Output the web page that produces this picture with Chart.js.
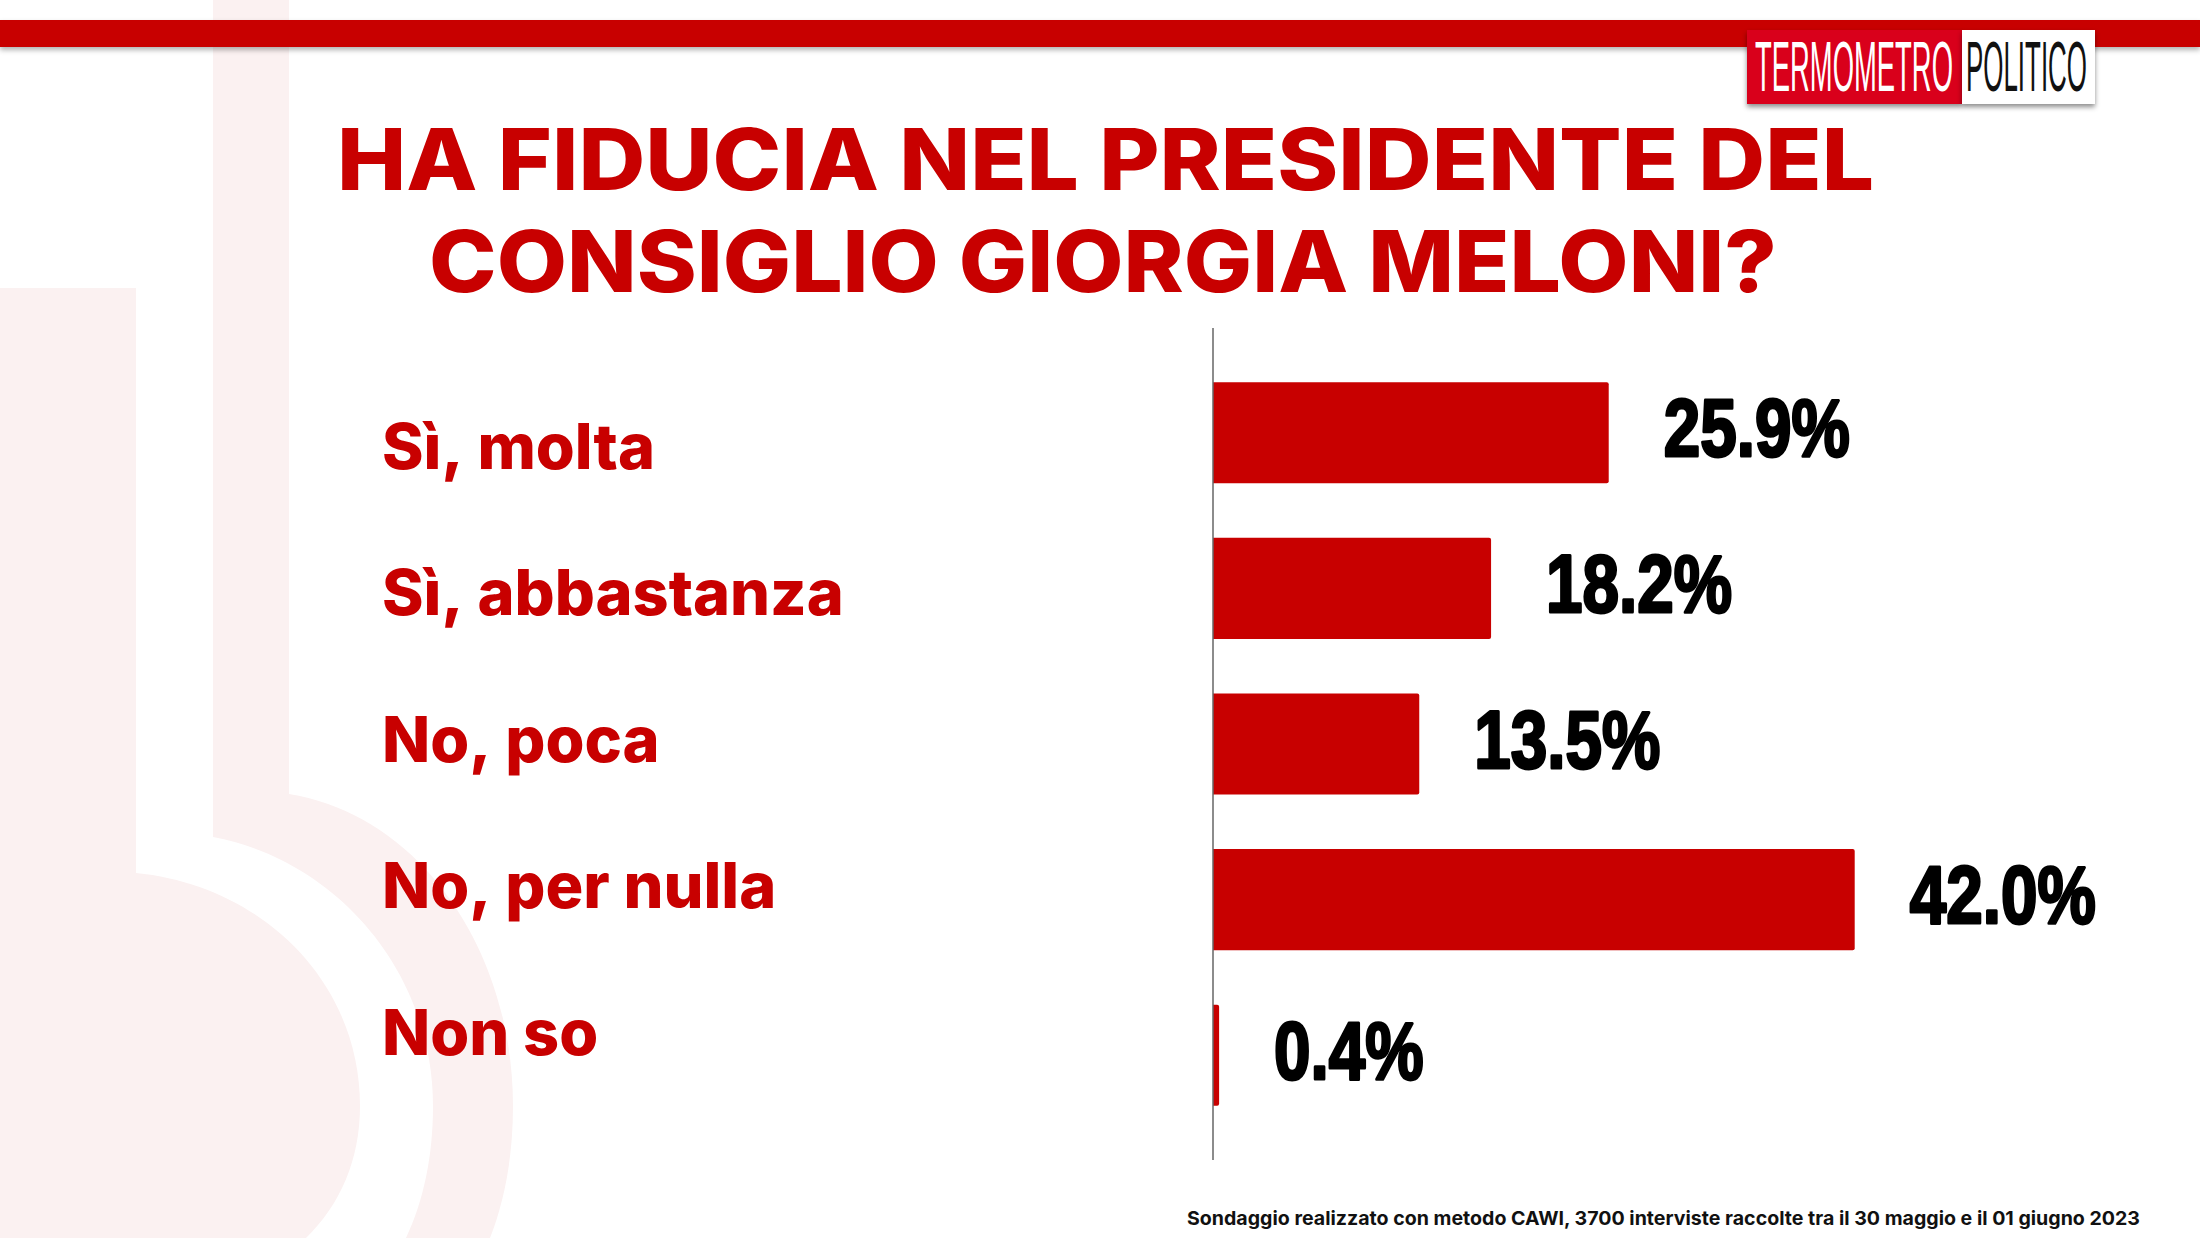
<!DOCTYPE html>
<html lang="it">
<head>
<meta charset="utf-8">
<title>Fiducia Meloni</title>
<script src="https://cdn.jsdelivr.net/npm/chart.js@4/dist/chart.umd.min.js"></script>
<style>
  html, body { margin: 0; padding: 0; background: #fff; }
  #page { position: relative; width: 2200px; height: 1238px; overflow: hidden; background: #fff; }
  #page > * { position: absolute; }
  #sfondo { left: 0; top: 0; }
  #banda { left: 0; top: 20px; width: 2200px; height: 27px; background: #c80000; box-shadow: 0 3px 5px rgba(0,0,0,.3); }
  canvas { left: 0; top: 0; }
  .riga { white-space: nowrap; transform-origin: left top; }
  .titolo { font: 800 85px Inter, sans-serif; color: #c80000; line-height: 100px; }
  #nota { font: 700 19px Inter, sans-serif; color: #111; line-height: 24px; }
  #logo-rosso { left: 1747px; top: 30px; width: 215px; height: 74px; background: #d9001b; box-shadow: 0 3px 5px rgba(0,0,0,.45); }
  #logo-bianco { left: 1962px; top: 30px; width: 133px; height: 74px; background: #fff; box-shadow: 0 3px 5px rgba(0,0,0,.45); }
  .logo { font: 400 70px "Liberation Sans", sans-serif; line-height: 70px; }
</style>
</head>
<body>
<div id="page">
  <svg id="sfondo" width="2200" height="1238">
    <g fill="#fbf1f1">
      <path d="M0 288H136V873C260 885 360 980 360 1106C360 1160 340 1205 306 1238H0Z"/>
      <path d="M213 0H289V794C420 815 513 950 513 1106C513 1155 505 1200 490 1238H406C424 1200 433 1155 433 1106C433 970 335 860 213 837Z"/>
    </g>
  </svg>
  <div id="banda"></div>
  <div id="logo-rosso"></div>
  <div id="logo-bianco"></div>
  <div class="riga logo" data-w="198" style="left:1755px;top:32px;color:#fff">TERMOMETRO</div>
  <div class="riga logo" data-w="121" style="left:1966px;top:32px;color:#111">POLITICO</div>
  <div class="riga titolo" data-w="1537" style="left:337px;top:110px">HA FIDUCIA NEL PRESIDENTE DEL</div>
  <div class="riga titolo" data-w="1348" style="left:429px;top:212px">CONSIGLIO GIORGIA MELONI?</div>
  <div class="riga" id="nota" data-w="953" style="left:1187px;top:1207px">Sondaggio realizzato con metodo CAWI, 3700 interviste raccolte tra il 30 maggio e il 01 giugno 2023</div>
  <canvas id="grafico" width="2200" height="1238"></canvas>
</div>

<script>
const categorie = ['Sì, molta', 'Sì, abbastanza', 'No, poca', 'No, per nulla', 'Non so'];
const valori = [25.9, 18.2, 13.5, 42.0, 0.4];

const ROSSO = '#c80000';

document.querySelectorAll('.riga').forEach(el => {
    const larghezza = el.getBoundingClientRect().width;
    el.style.transform = `scaleX(${el.dataset.w / larghezza})`;
});

// asse verticale piu lungo dell'area del grafico + etichette dei valori
const extraPlugin = {
    id: 'extraPlugin',
    afterDatasetsDraw(chart) {
        const { ctx, chartArea, scales } = chart;
        const x0 = scales.x.getPixelForValue(0);

        ctx.save();
        ctx.strokeStyle = '#666';
        ctx.lineWidth = 1.5;
        ctx.beginPath();
        ctx.moveTo(x0, chartArea.top - 27);
        ctx.lineTo(x0, chartArea.bottom + 27);
        ctx.stroke();
        ctx.restore();

        valori.forEach((v, i) => {
            const testo = v.toFixed(1) + '%';
            ctx.save();
            // nessun font condensato disponibile: si stringe in orizzontale
            ctx.translate(scales.x.getPixelForValue(v) + 55, scales.y.getPixelForValue(i) + 1);
            ctx.scale(0.8, 1);
            ctx.font = '700 82px "Liberation Sans", sans-serif';
            ctx.textBaseline = 'middle';
            ctx.textAlign = 'left';
            ctx.lineJoin = 'round';
            ctx.lineWidth = 7;
            ctx.strokeStyle = 'rgba(255,255,255,.9)';
            ctx.strokeText(testo, 0, 0);
            ctx.lineWidth = 3;
            ctx.strokeStyle = '#000';
            ctx.strokeText(testo, 0, 0);
            ctx.fillStyle = '#000';
            ctx.fillText(testo, 0, 0);
            ctx.restore();
        });
    }
};

new Chart(document.getElementById('grafico').getContext('2d'), {
    type: 'bar',
    data: {
        labels: categorie,
        datasets: [{
            data: valori,
            backgroundColor: ROSSO,
            borderRadius: 2,
            borderSkipped: 'left',
            barPercentage: 0.65,
            categoryPercentage: 1
        }]
    },
    options: {
        indexAxis: 'y',
        responsive: false,
        animation: false,
        devicePixelRatio: 1,
        layout: { padding: { top: 355, bottom: 105, left: 382, right: 0 } },
        plugins: { legend: { display: false }, tooltip: { enabled: false } },
        scales: {
            x: { min: 0, max: 64.6, display: false },
            y: { display: false },
            // le etichette hanno un passo diverso dalle barre
            yEtichette: {
                axis: 'y',
                type: 'linear',
                position: 'left',
                reverse: true,
                offset: false,
                bounds: 'data',
                min: -0.645,
                max: 4.661,
                grid: { display: false, offset: false },
                border: { display: false },
                afterBuildTicks: s => { s.ticks = categorie.map((_, i) => ({ value: i })); },
                afterFit: s => { s.width = 831; },
                ticks: {
                    autoSkip: false,
                    crossAlign: 'far',
                    color: ROSSO,
                    font: { family: 'Inter', size: 63, weight: '800' },
                    callback: v => categorie[v]
                }
            }
        }
    },
    plugins: [extraPlugin]
});
</script>
</body>
</html>
